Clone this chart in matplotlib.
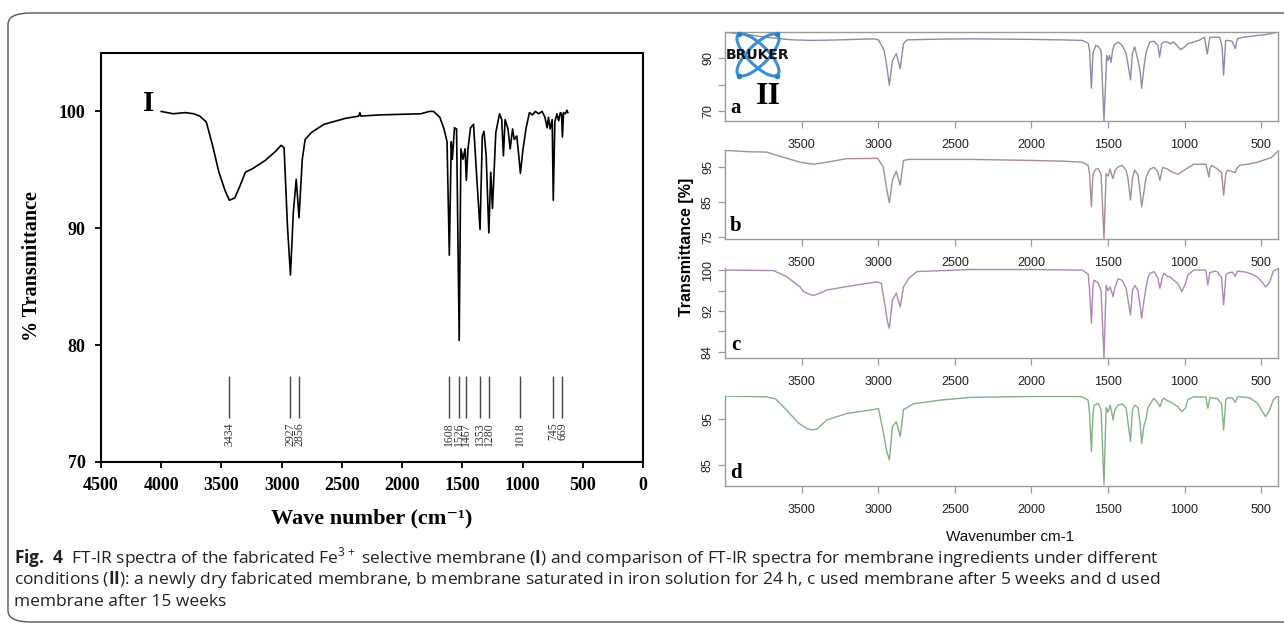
import matplotlib
matplotlib.use("Agg")
import matplotlib.pyplot as plt
from matplotlib.patches import Ellipse, FancyBboxPatch

plt.rcParams['mathtext.fontset'] = 'custom'
plt.rcParams['mathtext.rm'] = 'Open Sans'
plt.rcParams['mathtext.bf'] = 'Open Sans:bold'

W, H = 1284, 630

# ---- panel I : membrane spectrum
wn_I = [4000, 3900, 3800, 3730, 3680, 3626, 3574, 3521, 3469, 3434, 3389, 3347, 3301,
        3242, 3137, 3049, 3005, 2980, 2952, 2927, 2903, 2879, 2856, 2829, 2805, 2753,
        2648, 2473, 2360, 2351, 2342, 2194, 1844, 1774, 1739, 1687, 1652, 1627, 1608,
        1592, 1583, 1565, 1548, 1526, 1512, 1495, 1477, 1467, 1453, 1432, 1407, 1383,
        1353, 1334, 1320, 1302, 1280, 1264, 1250, 1222, 1191, 1173, 1159, 1145, 1121,
        1103, 1083, 1069, 1048, 1031, 1018, 996, 970, 943, 918, 894, 866, 838, 814, 796,
        785, 771, 754, 745, 732, 715, 700, 686, 676, 669, 660, 645, 632, 624]
T_I = [100.0, 99.8, 99.9, 99.8, 99.6, 99.1, 97.1, 94.8, 93.2, 92.4, 92.6, 93.6, 94.8,
       95.1, 95.8, 96.6, 97.1, 96.9, 90.2, 86.0, 91.4, 94.2, 90.9, 95.9, 97.6, 98.2,
       98.9, 99.4, 99.6, 99.9, 99.6, 99.7, 99.8, 100.0, 100.0, 99.5, 98.5, 97.4, 87.7,
       97.4, 95.9, 98.6, 98.5, 80.4, 96.8, 95.9, 96.8, 94.1, 96.8, 98.6, 98.9, 94.8,
       89.9, 97.9, 98.3, 96.2, 89.6, 94.8, 91.7, 98.2, 99.8, 99.3, 96.2, 99.3, 98.5,
       96.8, 98.5, 97.6, 97.9, 96.2, 94.7, 96.8, 98.6, 99.9, 99.7, 100.0, 99.8, 100.0, 99.5, 98.6,
       99.5, 98.5, 99.3, 92.4, 99.1, 99.8, 99.2, 99.9, 99.8, 97.8, 99.9, 99.8, 100.1, 99.9]
peaks_I = [3434, 2927, 2856, 1608, 1526, 1467, 1353, 1280, 1018, 745, 669]

# ---- panel II : four Bruker spectra a-d
wn_a = [4000, 3850, 3730, 3600, 3550, 3430, 3330, 3200, 3030, 2998, 2961, 2943, 2927,
        2907, 2882, 2856, 2835, 2813, 2600, 2400, 2200, 2000, 1800, 1668, 1629, 1620,
        1608, 1598, 1580, 1564, 1545, 1526, 1508, 1499, 1490, 1480, 1470, 1460, 1434,
        1408, 1382, 1370, 1353, 1340, 1325, 1304, 1290, 1280, 1265, 1252, 1239, 1226,
        1200, 1175, 1163, 1150, 1135, 1109, 1096, 1070, 1044, 1026, 1000, 979, 940, 900,
        870, 852, 835, 800, 770, 755, 745, 732, 718, 690, 669, 655, 620, 576, 523, 471,
        420, 395]
T_a = [99.9, 99.0, 98.0, 97.2, 97.0, 96.8, 96.9, 97.1, 97.4, 97.0, 93.0, 86.7, 79.8,
       89.2, 91.8, 86.1, 95.5, 97.0, 97.3, 97.4, 97.3, 97.2, 97.0, 96.8, 95.8, 93.0,
       78.6, 92.0, 94.9, 94.5, 93.0, 66.3, 91.1, 89.2, 91.1, 88.5, 93.0, 95.0, 96.2,
       95.0, 92.0, 88.0, 81.8, 92.0, 94.3, 89.2, 85.0, 78.6, 86.7, 92.0, 94.3, 96.2,
       96.5, 95.0, 90.5, 95.5, 96.2, 96.2, 95.5, 96.2, 94.5, 93.3, 94.3, 95.5, 96.2, 97.0,
       98.0, 91.6, 98.0, 98.0, 98.0, 94.3, 83.6, 96.8, 96.8, 96.5, 93.7, 97.4, 98.0, 98.3,
       98.7, 99.0, 99.6, 99.9]

wn_b = [4000, 3850, 3728, 3619, 3510, 3423, 3335, 3205, 3004, 2967, 2943, 2927, 2907,
        2882, 2856, 2835, 2800, 2400, 2000, 1800, 1668, 1629, 1620, 1608, 1598, 1580,
        1564, 1545, 1526, 1512, 1499, 1486, 1473, 1467, 1455, 1434, 1408, 1382, 1370,
        1353, 1340, 1325, 1304, 1290, 1280, 1265, 1252, 1239, 1226, 1200, 1175, 1161,
        1143, 1109, 1096, 1070, 1044, 1020, 992, 940, 861, 848, 841, 835, 823, 784, 758,
        745, 730, 718, 690, 669, 661, 640, 576, 523, 471, 433, 395]
T_b = [99.9, 99.5, 99.4, 97.9, 96.5, 95.9, 96.5, 97.5, 97.6, 95.1, 88.4, 84.8, 91.3,
       93.9, 89.9, 97.0, 97.3, 97.3, 97.0, 96.8, 96.5, 95.6, 93.0, 83.7, 93.0, 94.5,
       94.6, 93.0, 74.6, 93.2, 92.5, 94.5, 92.5, 91.8, 94.0, 95.1, 95.6, 94.2, 92.0,
       85.6, 92.0, 94.2, 92.8, 88.0, 83.7, 88.0, 92.0, 93.5, 94.5, 95.0, 93.8, 91.3,
       95.0, 94.5, 94.0, 93.5, 93.0, 93.7, 94.5, 95.9, 95.9, 93.5, 92.2, 94.5, 95.6, 94.5, 93.5,
       87.0, 93.5, 94.2, 93.8, 93.5, 94.5, 95.6, 96.0, 96.5, 97.3, 97.8, 99.5]

wn_c = [4000, 3850, 3684, 3597, 3510, 3488, 3434, 3412, 3335, 3139, 3004, 2980, 2954,
        2940, 2927, 2907, 2882, 2856, 2835, 2800, 2747, 2400, 2000, 1700, 1668, 1629,
        1620, 1608, 1598, 1590, 1564, 1545, 1526, 1512, 1499, 1486, 1473, 1467, 1455,
        1434, 1408, 1382, 1353, 1340, 1325, 1304, 1290, 1280, 1265, 1252, 1239, 1226,
        1200, 1175, 1161, 1143, 1135, 1109, 1096, 1070, 1044, 1018, 992, 979, 940, 861,
        848, 835, 800, 784, 758, 745, 730, 718, 690, 669, 655, 600, 560, 523, 490, 471,
        446, 420, 395]
T_c = [100.0, 99.95, 99.9, 98.7, 96.7, 95.8, 95.1, 95.1, 96.1, 97.1, 97.7, 97.4, 92.8,
       90.0, 88.6, 94.1, 95.5, 92.8, 96.7, 98.4, 99.7, 100.1, 100.1, 100.0, 100.0, 99.2,
       96.0, 89.6, 97.0, 98.0, 97.5, 96.0, 82.9, 97.0, 96.0, 96.7, 95.5, 94.8, 96.5,
       98.3, 98.0, 96.5, 91.2, 96.0, 97.0, 96.0, 93.0, 90.6, 94.0, 96.5, 98.5, 99.3,
       99.7, 98.5, 96.4, 98.8, 99.4, 98.7, 98.7, 98.0, 97.4, 95.8, 97.5, 99.0, 100.0, 100.0,
       97.1, 99.5, 99.8, 99.6, 98.5, 93.2, 99.0, 99.4, 99.6, 98.8, 99.8, 99.6, 99.2, 98.6, 97.5, 96.7,
       97.5, 99.8, 100.2]

wn_d = [4000, 3850, 3730, 3671, 3600, 3520, 3470, 3434, 3400, 3335, 3203, 3020, 2998,
        2961, 2945, 2927, 2907, 2882, 2856, 2835, 2769, 2595, 2399, 2000, 1700, 1668,
        1629, 1620, 1608, 1598, 1590, 1564, 1545, 1526, 1512, 1499, 1486, 1473, 1467,
        1455, 1434, 1408, 1382, 1353, 1340, 1325, 1304, 1290, 1280, 1265, 1252, 1239,
        1226, 1200, 1175, 1161, 1143, 1135, 1109, 1096, 1070, 1044, 1018, 992, 979, 940,
        861, 848, 835, 823, 784, 758, 745, 730, 718, 690, 669, 655, 627, 576, 523, 490,
        471, 446, 420, 395]
T_d = [100.0, 99.9, 99.8, 99.4, 97.0, 94.1, 93.0, 92.6, 92.8, 94.8, 96.2, 97.1, 97.3,
       91.2, 88.0, 86.1, 93.3, 94.4, 91.2, 97.0, 98.3, 99.1, 99.7, 99.9, 99.9, 99.8,
       99.1, 96.0, 87.9, 96.0, 98.0, 98.4, 97.0, 80.7, 97.5, 96.5, 98.0, 96.0, 94.8,
       97.0, 98.0, 98.3, 97.5, 90.1, 97.0, 98.0, 97.5, 94.0, 89.7, 93.5, 95.0, 97.5,
       98.2, 99.5, 98.5, 97.7, 99.3, 99.5, 98.9, 98.8, 98.2, 97.7, 96.6, 97.5, 99.2, 99.8,
       99.8, 97.3, 99.6, 99.6, 99.4, 98.2, 92.6, 99.3, 99.6, 99.6, 98.6, 99.8, 99.8, 99.6,
       98.4, 96.5, 95.5, 96.8, 99.2, 99.9]

spectra_II = [
    # (wn, T, colour, ylim, yticks, yticklabels, letter)
    (wn_a, T_a, '#8a8da6', (66.2, 100), [70, 80, 90], ['70', '', '90'], 'a'),
    (wn_b, T_b, '#a58c96', (74.4, 100), [75, 85, 95], ['75', '85', '95'], 'b'),
    (wn_c, T_c, '#ad88b6', (82.8, 100.4), [84, 88, 92, 96, 100], ['84', '', '92', '', '100'], 'c'),
    (wn_d, T_d, '#82b088', (80.4, 100), [85, 95], ['85', '95'], 'd'),
]
tops_II = [32, 150, 268, 396]
bots_II = [121, 239, 358, 486]

fig = plt.figure(figsize=(W / 100, H / 100), dpi=100)


def px_axes(x0, y0, x1, y1):
    return fig.add_axes([x0 / W, 1 - y1 / H, (x1 - x0) / W, (y1 - y0) / H])


# rounded frame around the whole figure
fig.add_artist(FancyBboxPatch((8 / W, 1 - 622 / H), 1300 / W, 609 / H,
                              boxstyle="round,pad=0,rounding_size=0.018",
                              transform=fig.transFigure, fill=False,
                              ec='#555555', lw=1.0, clip_on=False))

# ---------------- panel I
serif = 'Liberation Serif'
ax = px_axes(101, 53, 643, 462)
ax.plot(wn_I, T_I, color='black', lw=1.2)
ax.set_xlim(4500, 0)
ax.set_ylim(70, 105)
ax.set_xticks(range(4500, -1, -500))
ax.set_yticks([70, 80, 90, 100])
for s in ax.spines.values():
    s.set_linewidth(1.5)
ax.tick_params(direction='out', length=4, width=1.3, pad=7)
for lab in ax.get_xticklabels() + ax.get_yticklabels():
    lab.set_fontfamily(serif)
    lab.set_fontweight('bold')
    lab.set_fontsize(13)
ax.vlines(peaks_I, 73.75, 77.35, color='#444444', lw=1.0)
for p in peaks_I:
    ax.text(p, 73.4, str(p), rotation=90, ha='center', va='top',
            fontsize=8.5, family=serif, color='#333333')
ax.text(0.088, 0.876, 'I', transform=ax.transAxes, ha='center', va='center',
        fontsize=21, fontweight='bold', family=serif)
fig.text(32 / W, 1 - 266 / H, '% Transmittance', rotation=90, ha='center', va='center',
         fontsize=14.5, fontweight='bold', family=serif)
fig.text(372 / W, 1 - 518 / H, 'Wave number (cm\u207b\u00b9)', ha='center', va='center',
         fontsize=16, fontweight='bold', family=[serif, 'DejaVu Serif'])

# ---------------- panel II
sans = ['Liberation Sans Narrow', 'Liberation Sans']
for (wn, T, col, yl, yt, ytl, letter), top, bot in zip(spectra_II, tops_II, bots_II):
    a2 = px_axes(725, top, 1278, bot)
    a2.plot(wn, T, color=col, lw=1.0)
    a2.set_xlim(4000, 390)
    a2.set_ylim(*yl)
    a2.set_xticks(range(3500, 499, -500))
    a2.set_yticks(yt)
    a2.set_yticklabels(ytl, rotation=90, va='center')
    for s in a2.spines.values():
        s.set_color('#9a9a9a')
        s.set_linewidth(1.0)
    if letter != 'a':
        a2.spines['top'].set_visible(False)
    a2.tick_params(axis='x', direction='out', length=5, width=0.9, color='#9a9a9a', pad=8)
    a2.tick_params(axis='y', direction='out', length=5, width=0.9, color='#9a9a9a', pad=3)
    for lab in a2.get_xticklabels() + a2.get_yticklabels():
        lab.set_fontfamily(sans)
        lab.set_fontsize(9)
        lab.set_color('#222222')
    a2.text(11 / 553, 3 / (bot - top), letter, transform=a2.transAxes,
            ha='center', va='bottom', fontsize=15, fontweight='bold', family=serif)

fig.text(768 / W, 1 - 97 / H, 'II', ha='center', va='center', fontsize=23,
         fontweight='bold', family=serif)
fig.text(686 / W, 1 - 247 / H, 'Transmittance [%]', rotation=90, ha='center', va='center',
         fontsize=11.5, fontweight='bold', family=sans)
fig.text(1010 / W, 1 - 537 / H, 'Wavenumber cm-1', ha='center', va='center',
         fontsize=11, family=sans, color='#111111')

# Bruker logo (two crossed orbits)
lg = px_axes(728, 30, 788, 80)
lg.set_xlim(0, 60)
lg.set_ylim(0, 50)
lg.axis('off')
for ang in (45, -45):
    lg.add_patch(Ellipse((30, 25), 56, 20, angle=ang, fill=False, ec='#3d8fd1', lw=2.2))
lg.plot([11, 49, 11, 49], [46, 4, 4, 46], 'o', color='#2f7fc4', ms=3)
lg.text(30, 25, 'BRUKER', ha='center', va='center', fontsize=10,
        fontweight='bold', family='DejaVu Sans', color='#111111')

# ---------------- caption
cap = dict(fontsize=12.5, family='Open Sans', color='#222222', ha='left', va='center')
fig.text(14 / W, 1 - 558 / H,
         r'$\mathbf{Fig.\ 4}$  FT-IR spectra of the fabricated Fe$^{3+}$ selective membrane '
         r'($\mathbf{I}$) and comparison of FT-IR spectra for membrane ingredients under different',
         **cap)
fig.text(14 / W, 1 - 580 / H,
         r'conditions ($\mathbf{II}$): a newly dry fabricated membrane, b membrane saturated in '
         r'iron solution for 24 h, c used membrane after 5 weeks and d used', **cap)
fig.text(14 / W, 1 - 602 / H, 'membrane after 15 weeks', **cap)

fig.savefig('out.png', dpi=100)
